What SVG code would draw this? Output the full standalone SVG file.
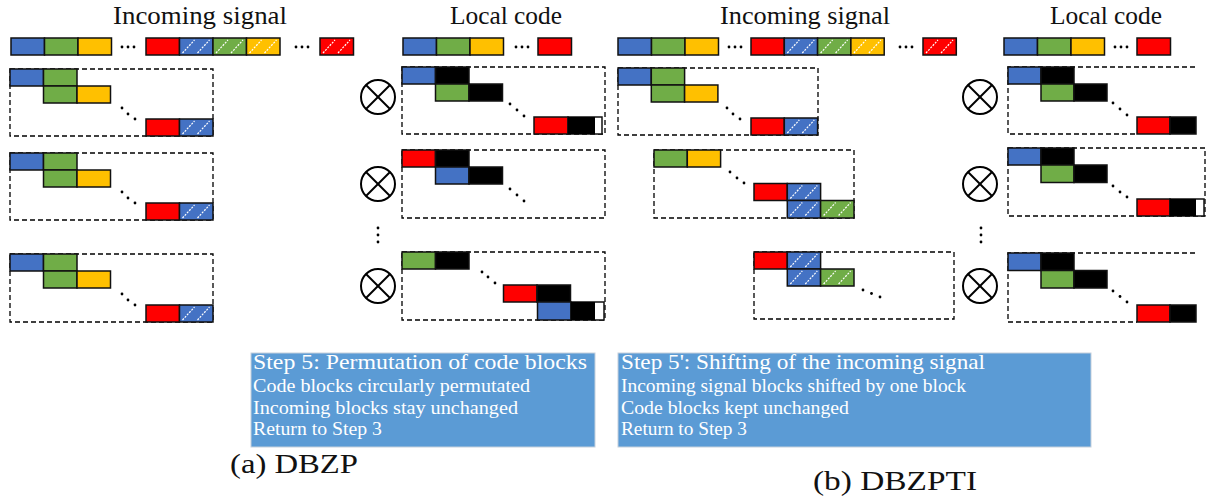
<svg xmlns="http://www.w3.org/2000/svg" xmlns:xlink="http://www.w3.org/1999/xlink" width="1210" height="497" viewBox="0 0 1210 497">
<style>
.b{fill:#4472C4}.g{fill:#70AD47}.y{fill:#FFC000}.r{fill:#FF0000}.k{fill:#000}.w{fill:#fff}
rect.blk{stroke:#111;stroke-width:1.5}
.dash{fill:none;stroke:#000;stroke-width:1.3;stroke-dasharray:5 3}
.dot{fill:#000}
.ot circle{fill:#fff;stroke:#000;stroke-width:2}
.ot line{stroke:#000;stroke-width:2}
.title{font-family:"Liberation Serif",serif;font-size:26px;fill:#111;text-anchor:middle}
.s1{font-family:"Liberation Serif",serif;font-size:22px;fill:#fff}
.s2{font-family:"Liberation Serif",serif;font-size:18px;fill:#fff}
.cap{font-family:"Liberation Serif",serif;font-size:27px;fill:#111}
.note{fill:#5B9BD5;stroke:#c5d0dc;stroke-width:1}
</style>
<defs>
<g id="hl" stroke="#fff" stroke-width="1.2" stroke-dasharray="2 1.3">
<line x1="3" y1="15" x2="15" y2="2"/><line x1="18" y1="15" x2="30" y2="2"/>
</g>
<g id="ot" class="ot"><circle cx="0" cy="0" r="17"/><line x1="-12" y1="-12" x2="12" y2="12"/><line x1="-12" y1="12" x2="12" y2="-12"/></g>
</defs>
<rect width="1210" height="497" fill="#fff"/>

<!-- Panel (a) -->
<g id="a-titles">
<text class="title" x="200" y="24" textLength="174" lengthAdjust="spacingAndGlyphs">Incoming signal</text>
<text class="title" x="506" y="24" textLength="112" lengthAdjust="spacingAndGlyphs">Local code</text>
</g>
<g id="a-incoming-row">
<rect class="blk b" x="11" y="38" width="33.5" height="17"/>
<rect class="blk g" x="44.5" y="38" width="33.5" height="17"/>
<rect class="blk y" x="78" y="38" width="33.5" height="17"/>
<circle class="dot" cx="122" cy="47" r="1.4"/><circle class="dot" cx="128" cy="47" r="1.4"/><circle class="dot" cx="134" cy="47" r="1.4"/>
<rect class="blk r" x="146" y="38" width="33.5" height="17"/>
<rect class="blk b" x="179.5" y="38" width="33.5" height="17"/><use xlink:href="#hl" x="179.5" y="38"/>
<rect class="blk g" x="213" y="38" width="33.5" height="17"/><use xlink:href="#hl" x="213" y="38"/>
<rect class="blk y" x="246.5" y="38" width="33.5" height="17"/><use xlink:href="#hl" x="246.5" y="38"/>
<circle class="dot" cx="296" cy="47" r="1.4"/><circle class="dot" cx="302" cy="47" r="1.4"/><circle class="dot" cx="308" cy="47" r="1.4"/>
<rect class="blk r" x="320" y="38" width="33.5" height="17"/><use xlink:href="#hl" x="320" y="38"/>
</g>
<g id="a-local-row">
<rect class="blk b" x="403" y="38" width="33.5" height="17"/>
<rect class="blk g" x="436.5" y="38" width="33.5" height="17"/>
<rect class="blk y" x="470" y="38" width="33.5" height="17"/>
<circle class="dot" cx="516" cy="47" r="1.4"/><circle class="dot" cx="522" cy="47" r="1.4"/><circle class="dot" cx="528" cy="47" r="1.4"/>
<rect class="blk r" x="538" y="38" width="33.5" height="17"/>
</g>

<g id="a-in-1">
<rect class="dash" x="10" y="69" width="203" height="67"/>
<rect class="blk b" x="10" y="69" width="33.5" height="17"/>
<rect class="blk g" x="43.5" y="69" width="33.5" height="17"/>
<rect class="blk g" x="43.5" y="86" width="33.5" height="17"/>
<rect class="blk y" x="77" y="86" width="33.5" height="17"/>
<circle class="dot" cx="122" cy="108" r="1.4"/><circle class="dot" cx="128" cy="114" r="1.4"/><circle class="dot" cx="135" cy="119" r="1.4"/>
<rect class="blk r" x="146" y="119" width="33.5" height="17"/>
<rect class="blk b" x="179.5" y="119" width="33.5" height="17"/><use xlink:href="#hl" x="179.5" y="119"/>
</g>
<g id="a-in-2">
<rect class="dash" x="10" y="153" width="203" height="67"/>
<rect class="blk b" x="10" y="153" width="33.5" height="17"/>
<rect class="blk g" x="43.5" y="153" width="33.5" height="17"/>
<rect class="blk g" x="43.5" y="170" width="33.5" height="17"/>
<rect class="blk y" x="77" y="170" width="33.5" height="17"/>
<circle class="dot" cx="122" cy="192" r="1.4"/><circle class="dot" cx="128" cy="198" r="1.4"/><circle class="dot" cx="135" cy="203" r="1.4"/>
<rect class="blk r" x="146" y="203" width="33.5" height="17"/>
<rect class="blk b" x="179.5" y="203" width="33.5" height="17"/><use xlink:href="#hl" x="179.5" y="203"/>
</g>
<g id="a-in-3">
<rect class="dash" x="10" y="254" width="203" height="68"/>
<rect class="blk b" x="10" y="254" width="33.5" height="17"/>
<rect class="blk g" x="43.5" y="254" width="33.5" height="17"/>
<rect class="blk g" x="43.5" y="271" width="33.5" height="17"/>
<rect class="blk y" x="77" y="271" width="33.5" height="17"/>
<circle class="dot" cx="122" cy="294" r="1.4"/><circle class="dot" cx="128" cy="300" r="1.4"/><circle class="dot" cx="135" cy="305" r="1.4"/>
<rect class="blk r" x="146" y="305" width="33.5" height="17"/>
<rect class="blk b" x="179.5" y="305" width="33.5" height="17"/><use xlink:href="#hl" x="179.5" y="305"/>
</g>

<g id="a-mult">
<use xlink:href="#ot" x="378" y="97"/>
<use xlink:href="#ot" x="378" y="184"/>
<use xlink:href="#ot" x="378" y="286"/>
<circle class="dot" cx="378" cy="228" r="1.4"/><circle class="dot" cx="378" cy="235" r="1.4"/><circle class="dot" cx="378" cy="242" r="1.4"/>
</g>

<g id="a-loc-1">
<rect class="dash" x="402" y="67" width="203" height="67"/>
<rect class="blk b" x="402" y="67" width="33.5" height="17"/>
<rect class="blk k" x="435.5" y="67" width="33.5" height="17"/>
<rect class="blk g" x="435.5" y="84" width="33.5" height="17"/>
<rect class="blk k" x="469" y="84" width="33.5" height="17"/>
<circle class="dot" cx="510" cy="104" r="1.4"/><circle class="dot" cx="517" cy="110" r="1.4"/><circle class="dot" cx="524" cy="116" r="1.4"/>
<rect class="blk r" x="534" y="117" width="34" height="17"/>
<rect class="blk w" x="568" y="117" width="34" height="17"/>
<rect class="k" x="568" y="117" width="27" height="17"/>
</g>
<g id="a-loc-2">
<rect class="dash" x="402" y="150" width="203" height="68"/>
<rect class="blk r" x="402" y="150" width="33.5" height="17"/>
<rect class="blk k" x="435.5" y="150" width="33.5" height="17"/>
<rect class="blk b" x="435.5" y="167" width="33.5" height="17"/>
<rect class="blk k" x="469" y="167" width="33.5" height="17"/>
<circle class="dot" cx="510" cy="189" r="1.4"/><circle class="dot" cx="517" cy="195" r="1.4"/><circle class="dot" cx="524" cy="201" r="1.4"/>
</g>
<g id="a-loc-3">
<rect class="dash" x="402" y="252" width="203" height="68"/>
<rect class="blk g" x="402" y="252" width="33.5" height="17"/>
<rect class="blk k" x="435.5" y="252" width="33.5" height="17"/>
<circle class="dot" cx="482" cy="272" r="1.4"/><circle class="dot" cx="488" cy="277" r="1.4"/><circle class="dot" cx="495" cy="283" r="1.4"/>
<rect class="blk r" x="503.5" y="285" width="33.5" height="17"/>
<rect class="blk k" x="537" y="285" width="33.5" height="17"/>
<rect class="blk b" x="537.5" y="302" width="33.5" height="18"/>
<rect class="blk w" x="571" y="302" width="33" height="18"/>
<rect class="k" x="571" y="302" width="24" height="18"/>
</g>

<g id="a-note">
<rect class="note" x="251" y="353" width="344" height="94"/>
<text class="s1" x="253" y="369" textLength="334" lengthAdjust="spacingAndGlyphs">Step 5: Permutation of code blocks</text>
<text class="s2" x="253" y="392" textLength="277" lengthAdjust="spacingAndGlyphs">Code blocks circularly permutated</text>
<text class="s2" x="253" y="414" textLength="265" lengthAdjust="spacingAndGlyphs">Incoming blocks stay unchanged</text>
<text class="s2" x="253" y="435" textLength="129" lengthAdjust="spacingAndGlyphs">Return to Step 3</text>
</g>
<g id="a-caption">
<text class="cap" x="230" y="473" textLength="128" lengthAdjust="spacingAndGlyphs">(a) DBZP</text>
</g>

<!-- Panel (b) -->
<g id="b-titles">
<text class="title" x="805" y="24" textLength="170" lengthAdjust="spacingAndGlyphs">Incoming signal</text>
<text class="title" x="1106" y="24" textLength="112" lengthAdjust="spacingAndGlyphs">Local code</text>
</g>
<g id="b-incoming-row">
<rect class="blk b" x="618" y="38" width="33.5" height="17"/>
<rect class="blk g" x="651.5" y="38" width="33.5" height="17"/>
<rect class="blk y" x="685" y="38" width="33.5" height="17"/>
<circle class="dot" cx="729" cy="47" r="1.4"/><circle class="dot" cx="735" cy="47" r="1.4"/><circle class="dot" cx="741" cy="47" r="1.4"/>
<rect class="blk r" x="751" y="38" width="33.3" height="17"/>
<rect class="blk b" x="784.3" y="38" width="33.3" height="17"/><use xlink:href="#hl" x="784.3" y="38"/>
<rect class="blk g" x="817.6" y="38" width="33.3" height="17"/><use xlink:href="#hl" x="817.6" y="38"/>
<rect class="blk y" x="850.9" y="38" width="33.3" height="17"/><use xlink:href="#hl" x="850.9" y="38"/>
<circle class="dot" cx="900" cy="47" r="1.4"/><circle class="dot" cx="906" cy="47" r="1.4"/><circle class="dot" cx="912" cy="47" r="1.4"/>
<rect class="blk r" x="923" y="38" width="33.3" height="17"/><use xlink:href="#hl" x="923" y="38"/>
</g>
<g id="b-local-row">
<rect class="blk b" x="1004" y="38" width="33.5" height="17"/>
<rect class="blk g" x="1037.5" y="38" width="33.5" height="17"/>
<rect class="blk y" x="1071" y="38" width="33.5" height="17"/>
<circle class="dot" cx="1115" cy="47" r="1.4"/><circle class="dot" cx="1121" cy="47" r="1.4"/><circle class="dot" cx="1127" cy="47" r="1.4"/>
<rect class="blk r" x="1137" y="38" width="33.5" height="17"/>
</g>

<g id="b-in-1">
<rect class="dash" x="618" y="68" width="200" height="67"/>
<rect class="blk b" x="618" y="68" width="33.3" height="17"/>
<rect class="blk g" x="651.3" y="68" width="33.3" height="17"/>
<rect class="blk g" x="651.3" y="85" width="33.3" height="17"/>
<rect class="blk y" x="684.6" y="85" width="33.3" height="17"/>
<circle class="dot" cx="727" cy="108" r="1.4"/><circle class="dot" cx="733" cy="114" r="1.4"/><circle class="dot" cx="740" cy="119" r="1.4"/>
<rect class="blk r" x="751" y="118" width="33.3" height="17"/>
<rect class="blk b" x="784.3" y="118" width="33.3" height="17"/><use xlink:href="#hl" x="784.3" y="118"/>
</g>
<g id="b-in-2">
<rect class="dash" x="654" y="150" width="200" height="68"/>
<rect class="blk g" x="654" y="150" width="33.3" height="17"/>
<rect class="blk y" x="687.3" y="150" width="33.3" height="17"/>
<circle class="dot" cx="730" cy="172" r="1.4"/><circle class="dot" cx="737" cy="178" r="1.4"/><circle class="dot" cx="744" cy="183" r="1.4"/>
<rect class="blk r" x="754" y="183.5" width="33.3" height="17"/>
<rect class="blk b" x="787.3" y="183.5" width="33.3" height="17"/><use xlink:href="#hl" x="787.3" y="183.5"/>
<rect class="blk b" x="787.3" y="200.5" width="33.3" height="17.5"/><use xlink:href="#hl" x="787.3" y="200.5"/>
<rect class="blk g" x="820.6" y="200.5" width="33.4" height="17.5"/><use xlink:href="#hl" x="820.6" y="200.5"/>
</g>
<g id="b-in-3">
<rect class="dash" x="754" y="252" width="200" height="67"/>
<rect class="blk r" x="754" y="252" width="33.3" height="17"/>
<rect class="blk b" x="787.3" y="252" width="33.3" height="17"/><use xlink:href="#hl" x="787.3" y="252"/>
<rect class="blk b" x="787.3" y="269" width="33.3" height="17"/><use xlink:href="#hl" x="787.3" y="269"/>
<rect class="blk g" x="820.6" y="269" width="33.4" height="17"/><use xlink:href="#hl" x="820.6" y="269"/>
<circle class="dot" cx="863" cy="290" r="1.4"/><circle class="dot" cx="871.5" cy="293.5" r="1.4"/><circle class="dot" cx="880" cy="297" r="1.4"/>
</g>

<g id="b-mult">
<use xlink:href="#ot" x="980" y="97"/>
<use xlink:href="#ot" x="980" y="184"/>
<use xlink:href="#ot" x="980" y="286"/>
<circle class="dot" cx="981" cy="228" r="1.4"/><circle class="dot" cx="981" cy="235" r="1.4"/><circle class="dot" cx="981" cy="242" r="1.4"/>
</g>

<g id="b-loc-1">
<polyline class="dash" points="1195,67 1008,67 1008,134 1137,134"/>
<rect class="blk b" x="1008" y="67" width="33" height="17"/>
<rect class="blk k" x="1041" y="67" width="33" height="17"/>
<rect class="blk g" x="1041" y="84" width="33" height="17"/>
<rect class="blk k" x="1074" y="84" width="33" height="17"/>
<circle class="dot" cx="1113" cy="103" r="1.4"/><circle class="dot" cx="1120" cy="109" r="1.4"/><circle class="dot" cx="1127" cy="115" r="1.4"/>
<rect class="blk r" x="1137" y="117" width="33" height="17"/>
<rect class="blk k" x="1170" y="117" width="26" height="17"/>
</g>
<g id="b-loc-2">
<rect class="dash" x="1008" y="148" width="197" height="68"/>
<rect class="blk b" x="1008" y="148" width="33" height="17"/>
<rect class="blk k" x="1041" y="148" width="33" height="17"/>
<rect class="blk g" x="1041" y="165" width="33" height="17.5"/>
<rect class="blk k" x="1074" y="165" width="33" height="17.5"/>
<circle class="dot" cx="1113" cy="186" r="1.4"/><circle class="dot" cx="1120" cy="192" r="1.4"/><circle class="dot" cx="1127" cy="197" r="1.4"/>
<rect class="blk r" x="1137" y="199" width="33" height="17"/>
<rect class="blk w" x="1170" y="199" width="34" height="17"/>
<rect class="k" x="1170" y="199" width="26" height="17"/>
</g>
<g id="b-loc-3">
<polyline class="dash" points="1195,253 1008,253 1008,322 1137,322"/>
<rect class="blk b" x="1008" y="253" width="33" height="17.5"/>
<rect class="blk k" x="1041" y="253" width="33" height="17.5"/>
<rect class="blk g" x="1041" y="270.5" width="33" height="17.5"/>
<rect class="blk k" x="1074" y="270.5" width="33" height="17.5"/>
<circle class="dot" cx="1113" cy="291" r="1.4"/><circle class="dot" cx="1120" cy="296.5" r="1.4"/><circle class="dot" cx="1127" cy="302" r="1.4"/>
<rect class="blk r" x="1137" y="305" width="33" height="17"/>
<rect class="blk k" x="1170" y="305" width="26" height="17"/>
</g>

<g id="b-note">
<rect class="note" x="618" y="353" width="473" height="94"/>
<text class="s1" x="621" y="369" textLength="364" lengthAdjust="spacingAndGlyphs">Step 5': Shifting of the incoming signal</text>
<text class="s2" x="621" y="392" textLength="345" lengthAdjust="spacingAndGlyphs">Incoming signal blocks shifted by one block</text>
<text class="s2" x="621" y="414" textLength="228" lengthAdjust="spacingAndGlyphs">Code blocks kept unchanged</text>
<text class="s2" x="621" y="435" textLength="126" lengthAdjust="spacingAndGlyphs">Return to Step 3</text>
</g>
<g id="b-caption">
<text class="cap" x="813" y="490" textLength="164" lengthAdjust="spacingAndGlyphs">(b) DBZPTI</text>
</g>
</svg>
